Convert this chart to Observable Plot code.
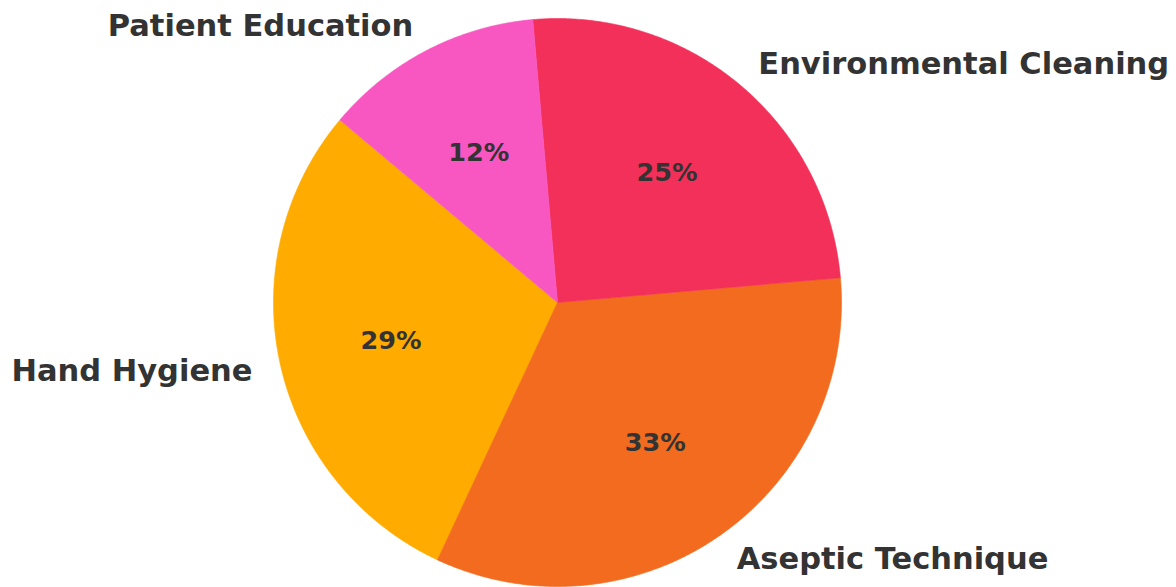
<!DOCTYPE html>
<html>
<head>
<meta charset="utf-8">
<script src="https://cdn.jsdelivr.net/npm/d3@7"></script>
<script src="https://cdn.jsdelivr.net/npm/@observablehq/plot@0.6"></script>
<style>
  html, body { margin: 0; padding: 0; background: #ffffff; }
  #chart svg { display: block; }
</style>
</head>
<body>
<div id="chart"></div>
<script>
// Infection-prevention focus areas (counts), drawn counter-clockwise from 140°
const categories = ["Hand Hygiene", "Aseptic Technique", "Environmental Cleaning", "Patient Education"];
const counts = [35, 40, 30, 15];
const colors = ["#FFAB00", "#F26B1F", "#F3305A", "#F857C2"];
const startAngle = 140; // degrees, counter-clockwise from the positive x axis

const W = 1176, H = 587;
const R = 284;              // pie radius in pixels
const cx = 557, cy = 302;   // pie centre in pixels

// Python-style "%1.0f" rounding (half to even)
function roundHalfEven(v) {
  const f = Math.floor(v), d = v - f;
  if (Math.abs(d - 0.5) < 1e-9) return f % 2 === 0 ? f : f + 1;
  return Math.round(v);
}

const total = d3.sum(counts);
let acc = 0;
const slices = categories.map((name, i) => {
  const a0 = startAngle + (acc / total) * 360;
  acc += counts[i];
  const a1 = startAngle + (acc / total) * 360;
  return {name, value: counts[i], a0, a1, mid: (a0 + a1) / 2, pct: (counts[i] / total) * 100};
});

const rad = (deg) => (deg * Math.PI) / 180;

// Outline of each wedge in unit-radius coordinates
const wedgePoints = slices.flatMap((s) => {
  const pts = [{name: s.name, x: 0, y: 0}];
  const steps = Math.max(2, Math.ceil((s.a1 - s.a0) / 0.5));
  for (let k = 0; k <= steps; ++k) {
    const a = rad(s.a0 + ((s.a1 - s.a0) * k) / steps);
    pts.push({name: s.name, x: Math.cos(a), y: Math.sin(a)});
  }
  pts.push({name: s.name, x: 0, y: 0});
  return pts;
});

const outer = slices.map((s) => ({
  name: s.name,
  x: 1.1 * Math.cos(rad(s.mid)),
  y: 1.1 * Math.sin(rad(s.mid))
}));
const inner = slices.map((s) => ({
  label: roundHalfEven(s.pct) + "%",
  x: 0.6 * Math.cos(rad(s.mid)),
  y: 0.6 * Math.sin(rad(s.mid))
}));

const font = "DejaVu Sans";

const chart = Plot.plot({
  width: W,
  height: H,
  marginTop: 0, marginRight: 0, marginBottom: 0, marginLeft: 0,
  style: {background: "#ffffff", fontFamily: font},
  x: {domain: [-cx / R, (W - cx) / R], axis: null},
  y: {domain: [-(H - cy) / R, cy / R], axis: null},
  color: {domain: categories, range: colors, legend: false},
  marks: [
    Plot.line(wedgePoints, {
      x: "x", y: "y", z: "name",
      fill: "name", stroke: "name", strokeWidth: 0.6,
      curve: "linear-closed"
    }),
    Plot.text(outer.filter((d) => d.x < 0), {
      x: "x", y: "y", text: "name",
      textAnchor: "end", fontSize: 30.5, fontWeight: "bold",
      fill: "#333333", fontFamily: font, dy: 1
    }),
    Plot.text(outer.filter((d) => d.x >= 0), {
      x: "x", y: "y", text: "name",
      textAnchor: "start", fontSize: 30.5, fontWeight: "bold",
      fill: "#333333", fontFamily: font, dy: 1
    }),
    Plot.text(inner, {
      x: "x", y: "y", text: "label",
      textAnchor: "middle", fontSize: 25.5, fontWeight: "bold",
      fill: "#333333", fontFamily: font, dy: 1
    })
  ]
});

document.getElementById("chart").appendChild(chart);
</script>
</body>
</html>
